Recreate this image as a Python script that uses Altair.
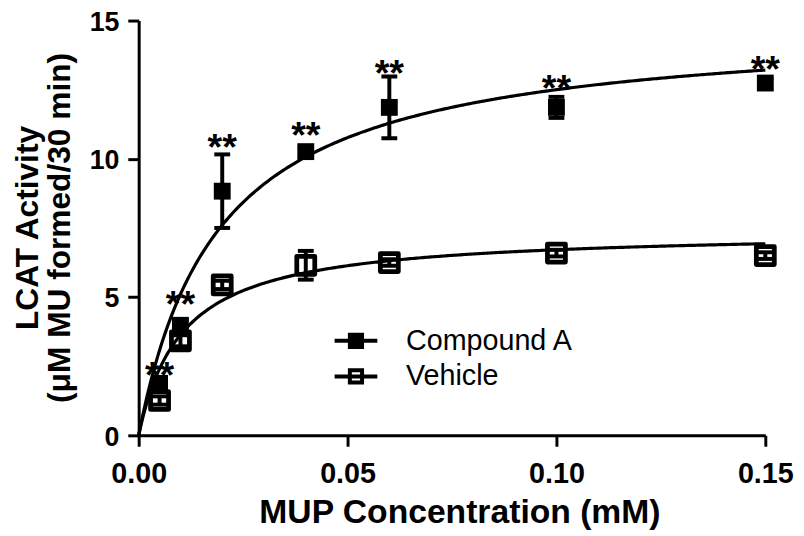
import altair as alt
import pandas as pd

# ---- data ----
conc = [0.005, 0.01, 0.02, 0.04, 0.06, 0.10, 0.15]
compound_mean = [1.88, 3.98, 8.83, 10.26, 11.86, 11.86, 12.74]
compound_sem = [0.15, 0.20, 1.33, 0.15, 1.12, 0.38, 0.15]
vehicle_mean = [1.26, 3.42, 5.44, 6.15, 6.25, 6.59, 6.50]
vehicle_sem = [0.15, 0.20, 0.15, 0.52, 0.12, 0.12, 0.12]
star_y = [2.49, 5.05, 10.74, 11.17, 13.42, 12.87, 13.58]
star_text = ["**"] * 7
series = ["Compound A", "Vehicle"]
fit_vmax = [14.9, 7.41]   # Michaelis-Menten fit (Vmax)
fit_km = [0.0192, 0.0104]  # Michaelis-Menten fit (Km)
x_ticks = [0.0, 0.05, 0.10, 0.15]
y_ticks = [0, 5, 10, 15]

pts = pd.DataFrame({
    "x": conc + conc,
    "y": compound_mean + vehicle_mean,
    "lo": [m - s for m, s in zip(compound_mean, compound_sem)] + [m - s for m, s in zip(vehicle_mean, vehicle_sem)],
    "hi": [m + s for m, s in zip(compound_mean, compound_sem)] + [m + s for m, s in zip(vehicle_mean, vehicle_sem)],
    "series": [series[0]] * len(conc) + [series[1]] * len(conc),
})
stars = pd.DataFrame({"x": conc, "y": star_y, "t": star_text})

xscale = alt.Scale(domain=[0, 0.15], nice=False, zero=False, padding=0)
yscale = alt.Scale(domain=[0, 15], nice=False, padding=0)

X = alt.X("x:Q", scale=xscale, axis=alt.Axis(values=x_ticks, format=".2f", title="MUP Concentration (mM)",
                                               titleX=324, titleY=88, titleAlign="center", titleBaseline="alphabetic",
                                               labelPadding=14, labelFontSize=29, labelFlush=False))
Y = alt.Y("y:Q", scale=yscale, axis=alt.Axis(values=y_ticks, title=["LCAT  Activity", "(\u03bcM MU formed/30 min)"],
                                               titleX=-102, titleY=209, titleAngle=270, titleAlign="center",
                                               titleBaseline="alphabetic", titleLineHeight=32, titleFontSize=32,
                                               labelPadding=9, labelFontSize=27, labelFlush=False,
                                               labelBaseline="top", labelOffset=-11))

# fitted curves
curves = []
for vmax, km in zip(fit_vmax, fit_km):
    c = (alt.Chart(alt.sequence(start=0, stop=0.15005, step=0.0005, as_="x"))
         .transform_calculate(y=f"{vmax}*datum.x/({km}+datum.x)")
         .mark_line(color="black", strokeWidth=3.2)
         .encode(x=X, y=Y))
    curves.append(c)

err_rule = alt.Chart(pts).mark_rule(color="black", strokeWidth=4, opacity=1).encode(
    x=X, y=alt.Y("lo:Q", scale=yscale), y2="hi:Q")
cap_lo = alt.Chart(pts).mark_tick(color="black", thickness=4, size=16, orient="horizontal", opacity=1).encode(
    x=X, y=alt.Y("lo:Q", scale=yscale))
cap_hi = alt.Chart(pts).mark_tick(color="black", thickness=4, size=16, orient="horizontal", opacity=1).encode(
    x=X, y=alt.Y("hi:Q", scale=yscale))

comp_pts = alt.Chart(pts).transform_filter(alt.datum.series == series[0]).mark_point(
    shape="square", filled=True, size=290, color="black", opacity=1).encode(x=X, y=Y)
veh_pts = alt.Chart(pts).transform_filter(alt.datum.series == series[1]).mark_point(
    shape="square", filled=False, size=330, stroke="black", strokeWidth=4.8, strokeJoin="round",
    opacity=1).encode(x=X, y=Y)

star_layer = alt.Chart(stars).mark_text(font="Liberation Sans", fontWeight="bold", fontSize=38,
                                        baseline="alphabetic", align="center", dy=22, color="black").encode(
    x=X, y=Y, text="t:N")

sym = "M-1.4,0H1.4M-0.4,-0.4H0.4V0.4H-0.4Z"
leg = alt.Legend(title=None, orient="none", legendX=202, legendY=306, symbolSize=950,
                 symbolStrokeColor="black", symbolStrokeWidth=4, symbolOpacity=1,
                 labelFontSize=29, labelFont="Liberation Sans", labelColor="black",
                 labelOffset=33, rowPadding=3, padding=0, labelLimit=0)
legend_layer = alt.Chart(pts).transform_filter("false").mark_point(strokeWidth=4).encode(
    x=X, y=Y,
    shape=alt.Shape("series:N", scale=alt.Scale(domain=series, range=[sym, sym]), legend=leg),
    fill=alt.Fill("series:N", scale=alt.Scale(domain=series, range=["black", "transparent"]), legend=leg),
    stroke=alt.Stroke("series:N", scale=alt.Scale(domain=series, range=["black", "black"]), legend=leg),
)

chart = alt.layer(*curves, err_rule, cap_lo, cap_hi, comp_pts, veh_pts, star_layer, legend_layer).properties(
    width=633, height=419,
    autosize=alt.AutoSizeParams(type="none"),
    padding={"left": 132, "top": 10, "right": 31, "bottom": 99},
).configure_view(stroke=None).configure_axis(
    grid=False, domainColor="black", domainWidth=3, tickColor="black", tickWidth=3, tickSize=11,
    labelFont="Liberation Sans", labelFontWeight="bold", labelColor="black",
    titleFont="Liberation Sans", titleFontWeight="bold", titleFontSize=34, titleColor="black",
)

chart.save("out.html", embed_options={"renderer": "svg", "actions": False})
